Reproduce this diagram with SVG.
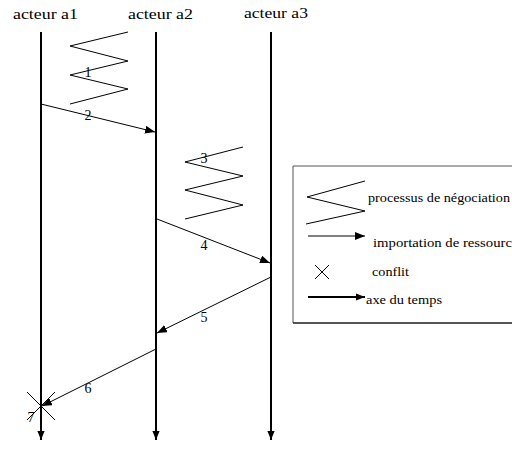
<svg xmlns="http://www.w3.org/2000/svg" width="512" height="451" viewBox="0 0 512 451">
<style>
.t{font-size:14px}
.n{font-size:14px;text-anchor:middle}
.l{font-size:12px}
.life{stroke:#000;stroke-width:2;fill:none}
.msg{stroke:#000;stroke-width:1;fill:none;marker-end:url(#ah)}
.zz{stroke:#000;stroke-width:1;fill:none}
</style>
<defs>
<marker id="ah" viewBox="0 0 10 8" refX="10" refY="4" markerWidth="10" markerHeight="8" markerUnits="userSpaceOnUse" orient="auto"><path d="M0,0 L10,4 L0,8 Z" fill="#000"/></marker>
<marker id="ahb" viewBox="0 0 10 8" refX="10" refY="4" markerWidth="9" markerHeight="8" markerUnits="userSpaceOnUse" orient="auto"><path d="M0,0 L10,4 L0,8 Z" fill="#000"/></marker>
</defs>
<g font-family="'Liberation Serif', 'DejaVu Serif', serif" fill="#000">
<g id="a1"><text class="t" x="13" y="19" textLength="65" lengthAdjust="spacingAndGlyphs">acteur a1</text><path class="life" d="M41,32 V440" marker-end="url(#ahb)"/></g>
<g id="a2"><text class="t" x="128" y="19" textLength="65" lengthAdjust="spacingAndGlyphs">acteur a2</text><path class="life" d="M156,32 V440" marker-end="url(#ahb)"/></g>
<g id="a3"><text class="t" x="244" y="18" textLength="64" lengthAdjust="spacingAndGlyphs">acteur a3</text><path class="life" d="M271,32 V440" marker-end="url(#ahb)"/></g>
<g id="n1"><polyline class="zz" points="128,32 70,46 128,61 70,75 128,89 70,104"/><text class="n" x="88" y="77">1</text></g>
<g id="n3"><polyline class="zz" points="243,147 185,162 243,176 185,190 243,205 185,219"/><text class="n" x="204" y="163">3</text></g>
<g id="connectors">
<line class="msg" x1="41" y1="104" x2="155" y2="132"/>
<line class="msg" x1="157" y1="219" x2="270" y2="263"/>
<line class="msg" x1="271" y1="277" x2="157" y2="333"/>
<line class="msg" x1="156" y1="349" x2="42" y2="406"/>
</g>
<g id="labels">
<text class="n" x="88" y="120">2</text>
<text class="n" x="204" y="250">4</text>
<text class="n" x="204" y="322">5</text>
<text class="n" x="88" y="393">6</text>
<text class="n" x="31" y="422">7</text>
</g>
<g id="n7"><path d="M27,392 L55,420 M55,392 L27,420" stroke="#000" stroke-width="1"/></g>
<g id="legend">
<path d="M512,166 H293 V323 H512" fill="none" stroke="#555" stroke-width="1"/>
<path d="M293,323 H512" stroke="#000" stroke-width="1"/>
<polyline class="zz" points="365,181 307,197 365,211 306,224"/>
<text class="l" x="368" y="202" textLength="142" lengthAdjust="spacingAndGlyphs">processus de négociation</text>
<line class="msg" x1="308" y1="236" x2="365" y2="236"/>
<text class="l" x="373" y="247" textLength="139" lengthAdjust="spacingAndGlyphs">importation de ressourc</text>
<path d="M315,265 L329,279 M329,265 L315,279" stroke="#000" stroke-width="1"/>
<text class="l" x="372" y="276" textLength="37" lengthAdjust="spacingAndGlyphs">conflit</text>
<line x1="308" y1="297" x2="365" y2="297" stroke="#000" stroke-width="2" marker-end="url(#ahb)"/>
<text class="l" x="366" y="304" textLength="76" lengthAdjust="spacingAndGlyphs">axe du temps</text>
</g>
</g>
</svg>
